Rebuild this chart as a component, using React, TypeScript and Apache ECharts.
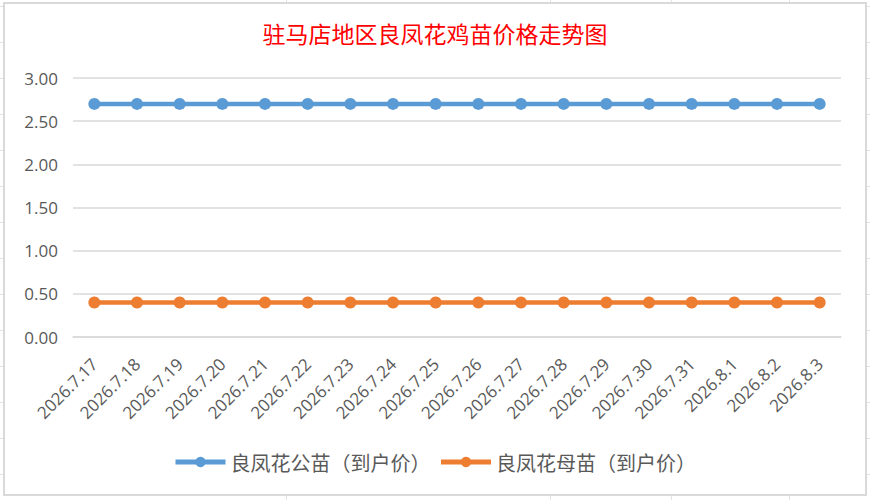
import React, { useEffect, useRef } from "react";
import * as echarts from "echarts";

const categories = [
  "2026.7.17", "2026.7.18", "2026.7.19", "2026.7.20", "2026.7.21", "2026.7.22",
  "2026.7.23", "2026.7.24", "2026.7.25", "2026.7.26", "2026.7.27", "2026.7.28",
  "2026.7.29", "2026.7.30", "2026.7.31", "2026.8.1", "2026.8.2", "2026.8.3",
];
const maleName = "良凤花公苗（到户价）";
const femaleName = "良凤花母苗（到户价）";
const maleValues = [2.7, 2.7, 2.7, 2.7, 2.7, 2.7, 2.7, 2.7, 2.7, 2.7, 2.7, 2.7, 2.7, 2.7, 2.7, 2.7, 2.7, 2.7];
const femaleValues = [0.4, 0.4, 0.4, 0.4, 0.4, 0.4, 0.4, 0.4, 0.4, 0.4, 0.4, 0.4, 0.4, 0.4, 0.4, 0.4, 0.4, 0.4];
const titleText = "驻马店地区良凤花鸡苗价格走势图";

const W = 870;
const H = 500;
const BOX = { x: 4, y: 3, w: 862, h: 492 };

function sheetLines() {
  const els: any[] = [];
  const st = { stroke: "#e2e2e2", lineWidth: 1 };
  for (let y = 6; y < H; y += 36) {
    els.push({ type: "line", silent: true, shape: { x1: 0, y1: y + 0.5, x2: BOX.x - 1, y2: y + 0.5 }, style: st });
    els.push({ type: "line", silent: true, shape: { x1: BOX.x + BOX.w + 1, y1: y + 0.5, x2: W, y2: y + 0.5 }, style: st });
  }
  [286, 550, 671, 789].forEach((x) => {
    els.push({ type: "line", silent: true, shape: { x1: x + 0.5, y1: 0, x2: x + 0.5, y2: BOX.y - 1 }, style: st });
    els.push({ type: "line", silent: true, shape: { x1: x + 0.5, y1: BOX.y + BOX.h + 1, x2: x + 0.5, y2: H }, style: st });
  });
  els.push({
    type: "rect",
    silent: true,
    shape: { x: BOX.x, y: BOX.y, width: BOX.w, height: BOX.h },
    style: { fill: "none", stroke: "#d9d9d9", lineWidth: 2 },
  });
  return els;
}

export default function App() {
  const ref = useRef<HTMLDivElement>(null);
  useEffect(() => {
    if (!ref.current) return;
    const chart = echarts.init(ref.current, undefined, { renderer: "svg" });
    const labelFont = "'Open Sans', 'Liberation Sans', sans-serif";
    chart.setOption({
      animation: false,
      backgroundColor: "#ffffff",
      graphic: sheetLines(),
      title: {
        text: titleText,
        left: "center",
        top: 16,
        textStyle: {
          color: "#ff0000",
          fontSize: 23,
          fontWeight: "normal",
          fontFamily: "'Noto Sans CJK SC', serif",
        },
      },
      legend: {
        left: 168,
        top: 447,
        itemWidth: 50,
        itemHeight: 13,
        itemGap: 8,
        lineStyle: { width: 5 },
        textStyle: {
          color: "#595959",
          fontSize: 20,
          fontFamily: "'Noto Sans CJK SC', sans-serif",
        },
        data: [maleName, femaleName],
      },
      grid: { left: 73, right: 29, top: 78, bottom: 163, containLabel: false },
      xAxis: {
        type: "category",
        data: categories,
        boundaryGap: true,
        axisLine: { show: true, lineStyle: { color: "#d9d9d9", width: 1.5 } },
        axisTick: { show: false },
        axisLabel: {
          rotate: 45,
          margin: 24,
          interval: 0,
          color: "#595959",
          fontSize: 17,
          fontFamily: labelFont,
        },
      },
      yAxis: {
        type: "value",
        min: 0,
        max: 3,
        interval: 0.5,
        axisLine: { show: false },
        axisTick: { show: false },
        splitLine: { lineStyle: { color: "#d9d9d9", width: 1.5 } },
        axisLabel: {
          margin: 15,
          color: "#595959",
          fontSize: 17,
          fontFamily: labelFont,
          formatter: (v: number) => v.toFixed(2),
        },
      },
      series: [
        {
          name: maleName,
          type: "line",
          data: maleValues,
          symbol: "circle",
          symbolSize: 12,
          lineStyle: { color: "#5b9bd5", width: 4.5 },
          itemStyle: { color: "#5b9bd5" },
        },
        {
          name: femaleName,
          type: "line",
          data: femaleValues,
          symbol: "circle",
          symbolSize: 12,
          lineStyle: { color: "#ed7d31", width: 4.5 },
          itemStyle: { color: "#ed7d31" },
        },
      ],
    });
    return () => chart.dispose();
  }, []);
  return (
    <div
      ref={ref}
      style={{ position: "absolute", left: 0, top: 0, width: W, height: H }}
    />
  );
}
